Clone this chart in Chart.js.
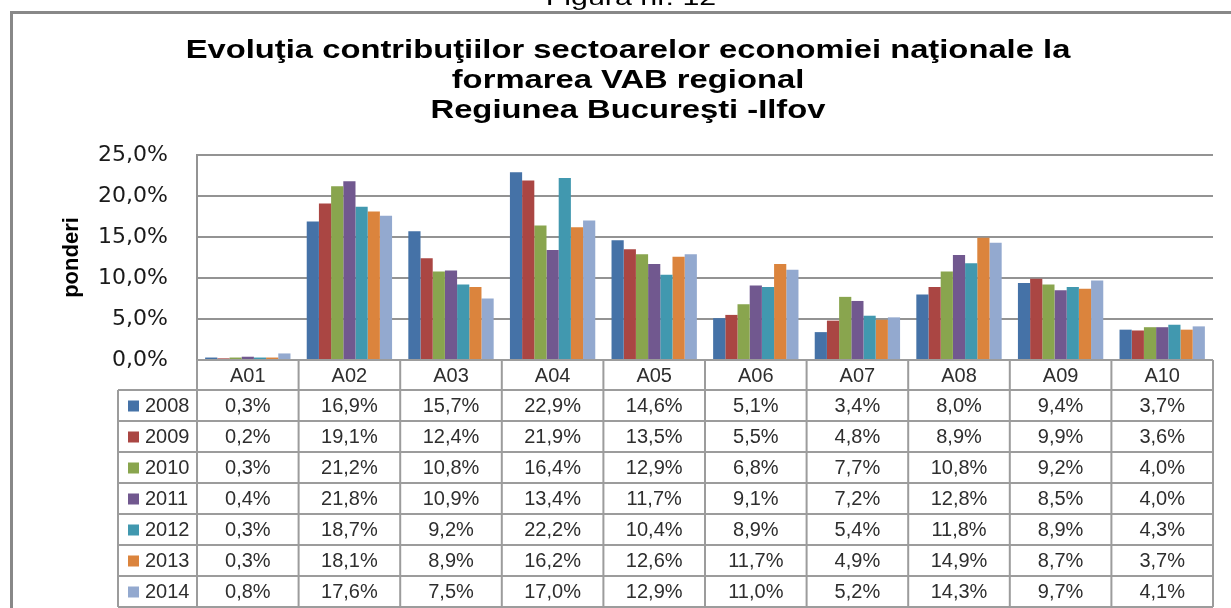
<!DOCTYPE html>
<html>
<head>
<meta charset="utf-8">
<script src="https://cdn.jsdelivr.net/npm/chart.js@4.4.1/dist/chart.umd.min.js"></script>
<style>
  html, body { margin: 0; padding: 0; background: #fff; }
  #wrap { width: 1231px; height: 608px; }
</style>
</head>
<body>
<div id="wrap"><canvas id="vab-Chart" width="1231" height="608"></canvas></div>
<script>
// date din tabel (ponderi %)
const categories = ["A01", "A02", "A03", "A04", "A05", "A06", "A07", "A08", "A09", "A10"];
const years = ["2008", "2009", "2010", "2011", "2012", "2013", "2014"];
const s2008 = [0.3, 16.9, 15.7, 22.9, 14.6, 5.1, 3.4, 8.0, 9.4, 3.7];
const s2009 = [0.2, 19.1, 12.4, 21.9, 13.5, 5.5, 4.8, 8.9, 9.9, 3.6];
const s2010 = [0.3, 21.2, 10.8, 16.4, 12.9, 6.8, 7.7, 10.8, 9.2, 4.0];
const s2011 = [0.4, 21.8, 10.9, 13.4, 11.7, 9.1, 7.2, 12.8, 8.5, 4.0];
const s2012 = [0.3, 18.7, 9.2, 22.2, 10.4, 8.9, 5.4, 11.8, 8.9, 4.3];
const s2013 = [0.3, 18.1, 8.9, 16.2, 12.6, 11.7, 4.9, 14.9, 8.7, 3.7];
const s2014 = [0.8, 17.6, 7.5, 17.0, 12.9, 11.0, 5.2, 14.3, 9.7, 4.1];
const yTicks = [0, 5, 10, 15, 20, 25];

const seriesValues = [s2008, s2009, s2010, s2011, s2012, s2013, s2014];
const colors = ["#4572A7", "#AA4643", "#89A54E", "#71588F", "#4198AF", "#DB843D", "#93A9CF"];

const titleLines = [
  "Evoluţia contribuţiilor sectoarelor economiei naţionale la",
  "formarea VAB regional",
  "Regiunea Bucureşti -Ilfov",
];

const fmt = (v) => v.toFixed(1).replace(".", ",") + "%";
const gridColor = "#939393";

// fundal, chenar, titlu
const frameTitlePlugin = {
  id: "frame-title",
  beforeDraw(chart) {
    const { ctx } = chart;
    ctx.save();
    ctx.fillStyle = "#ffffff";
    ctx.fillRect(0, 0, chart.width, chart.height);

    // "Figura nr. 12" (taiat sus)
    ctx.fillStyle = "#000";
    ctx.font = "22px 'Liberation Sans', Arial";
    ctx.textAlign = "center";
    ctx.textBaseline = "alphabetic";
    ctx.save();
    ctx.translate(631, 5);
    ctx.scale(1.38, 1);
    ctx.fillText("Figura nr. 12", 0, 0);
    ctx.restore();

    // chenarul graficului
    ctx.strokeStyle = "#888888";
    ctx.lineWidth = 3;
    ctx.strokeRect(11.5, 12.5, 1260, 640);

    // titlul
    ctx.font = "bold 26px 'Liberation Sans', Arial";
    const baselines = [58, 88, 118];
    titleLines.forEach((t, i) => {
      ctx.save();
      ctx.translate(628, baselines[i]);
      ctx.scale(1.26, 1);
      ctx.fillText(t, 0, 0);
      ctx.restore();
    });
    ctx.restore();
  },
};

// tabelul de date de sub grafic
const dataTablePlugin = {
  id: "data-table",
  afterDraw(chart) {
    const { ctx } = chart;
    const x = chart.scales.x;
    const colW = x.width / categories.length;
    const top = chart.chartArea.bottom;
    const headH = 30;
    const rowH = 31;
    const legendLeft = 118;
    const bottom = top + headH + rowH * years.length;

    ctx.save();
    ctx.strokeStyle = "#9c9c9c";
    ctx.lineWidth = 2;

    // linii orizontale
    ctx.beginPath();
    ctx.moveTo(x.left, top);
    ctx.lineTo(x.right, top);
    for (let r = 0; r <= years.length; r++) {
      const yy = top + headH + r * rowH;
      ctx.moveTo(legendLeft, yy);
      ctx.lineTo(x.right, yy);
    }
    // linii verticale
    for (let c = 0; c <= categories.length; c++) {
      const xx = x.left + c * colW;
      ctx.moveTo(xx, top);
      ctx.lineTo(xx, bottom);
    }
    ctx.moveTo(legendLeft, top + headH);
    ctx.lineTo(legendLeft, bottom);
    ctx.stroke();

    ctx.font = "20px 'Liberation Sans', Arial";
    ctx.fillStyle = "#2e2e2e";
    ctx.textBaseline = "middle";
    ctx.textAlign = "center";

    categories.forEach((cat, i) => {
      ctx.fillText(cat, x.getPixelForValue(i), top + headH / 2 + 1);
    });

    years.forEach((yr, r) => {
      const cy = top + headH + r * rowH + rowH / 2 + 1;
      ctx.fillStyle = colors[r];
      ctx.fillRect(legendLeft + 10, cy - 6, 11, 11);
      ctx.fillStyle = "#2e2e2e";
      ctx.textAlign = "left";
      ctx.fillText(yr, legendLeft + 27, cy);
      ctx.textAlign = "center";
      seriesValues[r].forEach((v, i) => {
        ctx.fillText(fmt(v), x.getPixelForValue(i), cy);
      });
    });
    ctx.restore();
  },
};

document.addEventListener("DOMContentLoaded", () => {
  const ctx = document.getElementById("vab-Chart");
  new Chart(ctx, {
    type: "bar",
    data: {
      labels: categories,
      datasets: years.map((yr, i) => ({
        label: yr,
        data: seriesValues[i],
        backgroundColor: colors[i],
        borderWidth: 0,
        categoryPercentage: 0.84,
        barPercentage: 1.0,
      })),
    },
    options: {
      responsive: false,
      animation: false,
      layout: { padding: { top: 155, right: 18, bottom: 248, left: 0 } },
      plugins: {
        legend: { display: false },
        title: { display: false },
        tooltip: { enabled: false },
      },
      scales: {
        x: { display: false },
        y: {
          min: 0,
          max: 25,
          afterBuildTicks: (scale) => {
            scale.ticks = yTicks.map((v) => ({ value: v }));
          },
          afterFit: (scale) => {
            scale.width = 197;
          },
          ticks: {
            padding: 29,
            color: "#1a1a1a",
            font: { family: "'DejaVu Sans'", size: 22 },
            callback: (v) => fmt(v),
          },
          grid: { color: gridColor, lineWidth: 2, drawTicks: false },
          border: { color: gridColor, width: 2 },
          title: {
            display: true,
            text: "ponderi",
            color: "#000",
            font: { family: "'Liberation Sans', Arial", size: 22, weight: "bold" },
            padding: { top: 59, bottom: 0 },
          },
        },
      },
    },
    plugins: [frameTitlePlugin, dataTablePlugin],
  });
});
</script>
</body>
</html>
